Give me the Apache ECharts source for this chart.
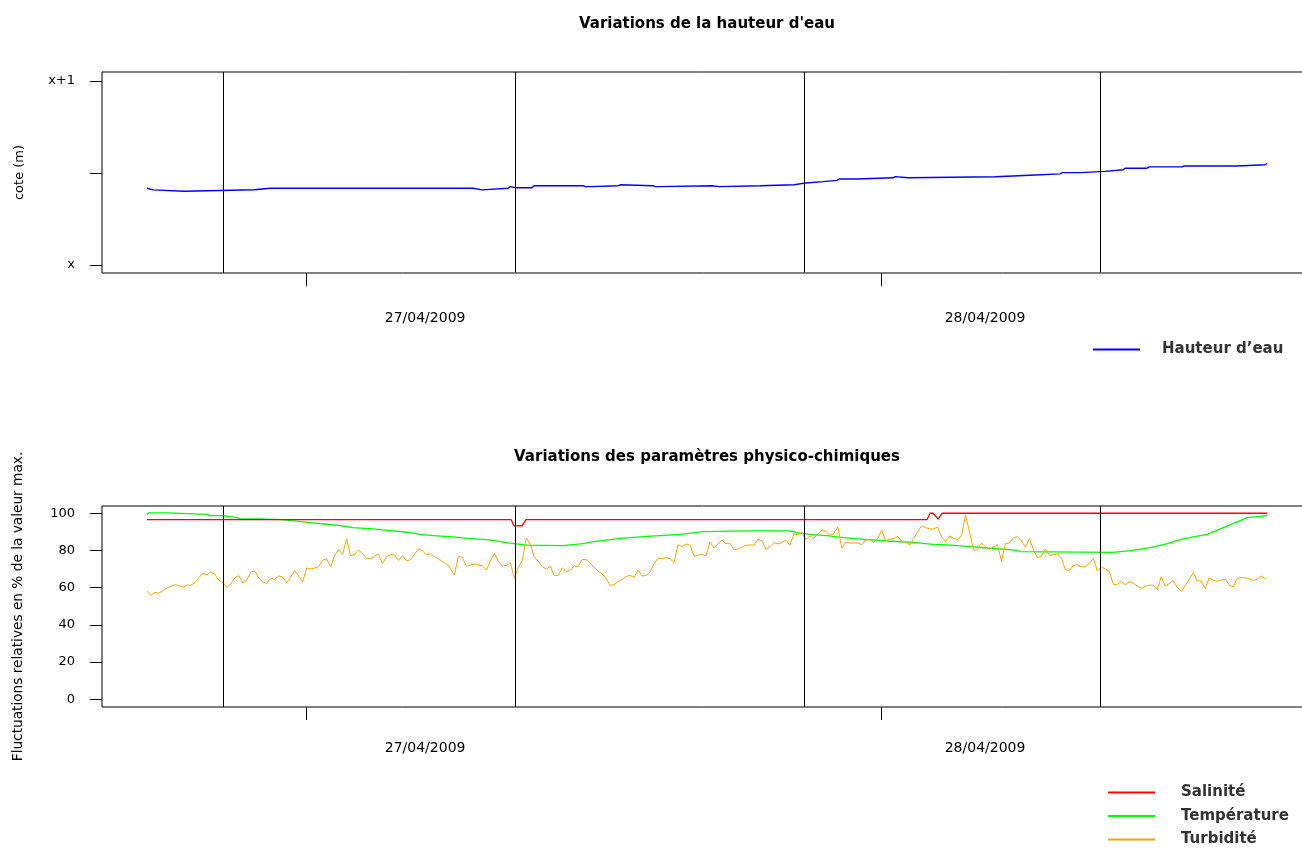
<!DOCTYPE html>
<html>
<head>
<meta charset="utf-8">
<title>Variations de la hauteur d'eau</title>
<script src="https://cdn.jsdelivr.net/npm/echarts@6/dist/echarts.min.js"></script>
<style>
  html, body { margin: 0; padding: 0; background: #fff; }
  #main { width: 1302px; height: 849px; }
</style>
</head>
<body>
<div id="main"></div>
<script>
// temps en heures depuis le 27/04/2009 00:00
var hauteurHeures = [-6.64, -6.39, -5.09, -2.17, -1.50, 6.97, 7.05, 7.35, 7.43, 8.43, 8.52, 8.77, 9.43, 9.52,
  11.56, 11.65, 11.90, 11.98, 13.02, 13.11, 13.19, 14.48, 14.57, 14.78, 14.86, 16.95, 17.03, 17.24, 17.32,
  18.95, 19.03, 20.37, 20.45, 20.87, 20.95, 21.58, 21.66, 22.16, 22.25, 23.00, 23.08, 24.50, 24.59, 24.67,
  25.13, 25.21, 28.76, 28.84, 30.22, 30.30, 31.47, 31.56, 32.31, 32.39, 33.35, 33.43, 34.10, 34.19, 35.10,
  35.19, 36.56, 36.65, 38.86, 38.94, 40.03, 40.11];
var hauteurValeurs = [0.417, 0.408, 0.401, 0.409, 0.417, 0.417, 0.408, 0.408, 0.417, 0.417, 0.426, 0.420, 0.420, 0.431,
  0.431, 0.426, 0.426, 0.431, 0.431, 0.436, 0.431, 0.431, 0.426, 0.426, 0.431, 0.431, 0.426, 0.426, 0.431,
  0.431, 0.436, 0.436, 0.446, 0.446, 0.453, 0.453, 0.460, 0.460, 0.467, 0.467, 0.474, 0.474, 0.480, 0.474,
  0.474, 0.480, 0.480, 0.488, 0.488, 0.495, 0.495, 0.502, 0.502, 0.509, 0.509, 0.518, 0.518, 0.526, 0.526,
  0.533, 0.533, 0.538, 0.538, 0.545, 0.545, 0.552];

var salHeures = [-6.64, 8.56, 8.68, 9.02, 9.18, 25.92, 26.05, 26.17, 26.38, 26.55, 40.11];
var salValeurs = [96.6, 96.6, 93.2, 93.2, 96.6, 96.6, 100, 100, 96.9, 100, 100];

var tempHeures = [-6.64, -6.55, -5.80, -5.72, -4.13, -4.01, -3.51, -3.46, -2.84, -2.75, -2.00, -1.00, -0.96,
  0.08, 0.88, 1.42, 1.96, 2.80, 3.38, 4.22, 4.76, 5.30, 6.14, 6.72, 7.56, 8.10, 8.51, 9.22, 10.73, 11.56,
  11.98, 12.69, 13.11, 14.23, 15.61, 16.57, 18.41, 20.20, 20.49, 21.04, 21.75, 22.41, 23.42, 24.25, 25.34,
  26.17, 26.76, 27.59, 28.55, 29.68, 29.80, 33.68, 34.52, 35.23, 35.94, 36.48, 37.02, 37.61, 38.15, 38.69,
  39.28, 40.11];
var tempValeurs = [99.4, 100.2, 100.2, 99.4, 99.4, 98.7, 98.7, 98.0, 97.6, 96.9, 96.9, 96.6, 95.9,
  95.1, 94.1, 93.3, 92.3, 91.6, 90.8, 89.8, 88.7, 88.0, 87.3, 86.5, 85.8, 84.7, 84.0, 82.9, 82.6, 83.7,
  84.7, 85.8, 86.5, 87.6, 88.7, 90.1, 90.5, 90.5, 89.4, 88.7, 88.0, 86.9, 85.8, 85.1, 84.4,
  83.3, 83.0, 82.2, 81.2, 80.1, 79.4, 79.0, 80.1, 81.5, 83.7, 85.8, 87.3, 88.7, 91.6, 94.4,
  97.6, 98.7];

// turbidité : une mesure toutes les 10 minutes
var turbDebut = -6.64;
var turbPas = 1 / 6;
var turbidite = [
  58.0, 55.9, 57.5, 57.0, 58.4, 59.8, 60.7, 61.6, 61.1, 60.2, 61.4, 61.3, 62.7, 65.4, 67.7, 66.8, 68.4, 67.2,
  64.0, 62.9, 60.2, 62.0, 65.2, 66.5, 62.5, 64.1, 68.3, 69.0, 65.2, 63.1, 62.2, 65.0, 64.5, 66.3, 65.7, 62.5,
  65.7, 69.2, 66.3, 63.1, 70.6, 70.0, 70.6, 71.3, 74.7, 75.6, 71.0, 77.2, 80.4, 77.9, 86.2, 77.2, 77.9, 80.3,
  78.1, 75.8, 75.4, 76.9, 78.1, 72.9, 76.7, 77.8, 77.6, 74.7, 77.2, 74.4, 75.1, 77.9, 80.8, 79.9, 77.6,
  78.3, 76.7, 75.4, 74.0, 72.9, 70.2, 66.8, 76.9, 76.2, 71.5, 72.0, 72.7, 72.2, 71.7, 69.5, 74.2, 78.5, 74.2,
  71.7, 71.9, 73.5, 65.0, 70.9, 74.7, 86.7, 83.3, 76.5, 74.2, 71.3, 69.9, 71.5, 66.5, 66.6, 70.6, 68.6, 69.3,
  71.8, 71.3, 75.1, 75.1, 73.1, 70.9, 68.8, 67.4, 64.9, 61.3, 61.6, 63.4, 64.5, 66.1, 66.6, 65.4, 69.5, 66.3,
  66.6, 68.4, 73.1, 75.8, 75.6, 76.1, 75.6, 73.5, 83.1, 82.1, 83.5, 82.9, 76.9, 77.4, 78.1, 76.9,
  84.6, 81.3, 83.3, 85.6, 83.7, 84.0, 80.3, 80.8, 81.7, 82.8, 83.0, 82.8, 86.0, 85.3, 80.6, 82.1, 84.2, 83.5,
  84.2, 85.6, 82.8, 88.7, 88.5, 89.8, 86.0, 87.6, 86.5, 88.9, 90.8, 90.3, 88.2, 88.9, 92.8, 81.2, 84.6, 83.9,
  84.0, 84.0, 83.1, 85.5, 86.0, 84.4, 86.5, 90.8, 85.3, 86.0, 86.4, 87.6, 84.9, 84.4, 82.8, 86.4, 90.1, 93.2,
  92.3, 91.6, 91.6, 92.6, 87.3, 84.8, 87.8, 86.5, 85.8, 88.0, 99.0, 89.8, 80.3, 80.3, 83.9, 81.9,
  80.6, 81.9, 83.1, 74.2, 83.7, 84.0, 86.9, 87.4, 85.1, 81.7, 86.5, 80.3, 76.1, 77.0, 80.8, 77.4, 77.6, 78.1,
  75.8, 69.7, 69.0, 72.0, 72.4, 71.1, 71.3, 73.1, 76.0, 69.0, 70.9, 70.2, 68.6, 61.8, 61.6, 63.4, 61.6, 63.2,
  62.3, 60.9, 59.6, 60.7, 61.3, 61.4, 58.9, 65.9, 60.9, 62.2, 63.8, 60.4, 57.9, 61.1, 64.3, 68.1, 63.8, 63.6,
  59.5, 65.2, 64.1, 63.4, 64.1, 64.5, 61.6, 60.4, 64.9, 65.6, 65.2, 65.0, 63.9, 64.5, 66.3, 64.7];

// traits verticaux noirs
var traitsHeures = [-3.46, 8.72, 20.79, 33.14];

var jourTicks = [0, 24];
var jourLabelsPos = [4.97, 28.34];
var jourLabels = ['27/04/2009', '28/04/2009'];

var coteTicks = [0, 0.5, 1];
var coteLabelsPos = [0, 1];
var coteLabels = ['x', 'x+1'];

var pctTicks = [0, 20, 40, 60, 80, 100];

var police = 'DejaVu Sans';

function paires(xs, ys) {
  return xs.map(function (x, i) { return [x, ys[i]]; });
}

function axeX(gi, marge) {
  return {
    type: 'value', gridIndex: gi, min: -8.515, max: 42.07,
    axisLine: {show: false, onZero: false},
    splitLine: {show: false},
    axisTick: {show: true, length: 13, customValues: jourTicks, lineStyle: {color: '#000'}},
    axisLabel: {
      customValues: jourLabelsPos, margin: marge, color: '#000', fontSize: 14, fontFamily: police,
      formatter: function (v) { return jourLabels[jourLabelsPos.indexOf(v)]; }
    }
  };
}

var traits = {
  silent: true,
  symbol: ['none', 'none'],
  label: {show: false},
  lineStyle: {color: '#000', width: 1, type: 'solid'},
  data: traitsHeures.map(function (h) { return {xAxis: h}; })
};

var legendeStyle = {fontFamily: police, fontWeight: 'bold', fontSize: 15, color: '#333'};

function legende(nom, top, gauche, ecart) {
  return {
    data: [nom], left: gauche, top: top, padding: 0,
    icon: 'rect', itemWidth: 47, itemHeight: 2,
    textStyle: Object.assign({padding: [0, 0, 0, ecart]}, legendeStyle)
  };
}

var option = {
  animation: false,
  backgroundColor: '#fff',
  title: [{
    text: "Variations de la hauteur d'eau",
    left: 702, top: 12, textAlign: 'center',
    textStyle: {fontFamily: police, fontWeight: 'bold', fontSize: 15, color: '#000'}
  }, {
    text: 'Variations des paramètres physico-chimiques',
    left: 702, top: 445, textAlign: 'center',
    textStyle: {fontFamily: police, fontWeight: 'bold', fontSize: 15, color: '#000'}
  }],
  legend: [
    legende('Hauteur d’eau', 342, 1093, 17),
    legende('Salinité', 785, 1108, 21),
    legende('Température', 808.5, 1108, 21),
    legende('Turbidité', 832, 1108, 21)
  ],
  grid: [
    {left: 102, top: 72, width: 1212, height: 201, show: true, borderColor: '#000', borderWidth: 1,
      outerBoundsMode: 'none'},
    {left: 102, top: 506, width: 1212, height: 201, show: true, borderColor: '#000', borderWidth: 1,
      outerBoundsMode: 'none'}
  ],
  xAxis: [axeX(0, 38), axeX(1, 34)],
  yAxis: [{
    type: 'value', gridIndex: 0, min: -0.0435, max: 1.0489,
    axisLine: {show: false, onZero: false},
    splitLine: {show: false},
    axisTick: {show: true, length: 12, customValues: coteTicks, lineStyle: {color: '#000'}},
    axisLabel: {
      customValues: coteLabelsPos, margin: 27, color: '#000', fontSize: 13, fontFamily: police,
      formatter: function (v) { return coteLabels[coteLabelsPos.indexOf(v)]; }
    },
    name: 'cote (m)', nameLocation: 'middle', nameGap: 76,
    nameTextStyle: {fontFamily: police, fontSize: 13, color: '#000'}
  }, {
    type: 'value', gridIndex: 1, min: -4.14, max: 103.9,
    axisLine: {show: false, onZero: false},
    splitLine: {show: false},
    axisTick: {show: true, length: 12, customValues: pctTicks, lineStyle: {color: '#000'}},
    axisLabel: {customValues: pctTicks, margin: 27, color: '#000', fontSize: 13, fontFamily: police},
    name: 'Fluctuations relatives en % de la valeur max.', nameLocation: 'middle', nameGap: 77,
    nameTextStyle: {fontFamily: police, fontSize: 13.7, color: '#000'}
  }],
  series: [{
    name: 'Hauteur d’eau', type: 'line', xAxisIndex: 0, yAxisIndex: 0,
    data: paires(hauteurHeures, hauteurValeurs),
    showSymbol: false, color: '#0000ff', lineStyle: {color: '#0000ff', width: 1.4},
    markLine: traits
  }, {
    name: 'Température', type: 'line', xAxisIndex: 1, yAxisIndex: 1,
    data: paires(tempHeures, tempValeurs),
    showSymbol: false, color: '#00ff00', lineStyle: {color: '#00ff00', width: 1.3},
    markLine: traits
  }, {
    name: 'Salinité', type: 'line', xAxisIndex: 1, yAxisIndex: 1,
    data: paires(salHeures, salValeurs),
    showSymbol: false, color: '#ff0000', lineStyle: {color: '#ff0000', width: 1.3}
  }, {
    name: 'Turbidité', type: 'line', xAxisIndex: 1, yAxisIndex: 1,
    data: turbidite.map(function (v, i) { return [turbDebut + i * turbPas, v]; }),
    showSymbol: false, color: '#ffa500', lineStyle: {color: '#ffa500', width: 1}
  }]
};

var chart = echarts.init(document.getElementById('main'));
chart.setOption(option);
</script>
</body>
</html>
